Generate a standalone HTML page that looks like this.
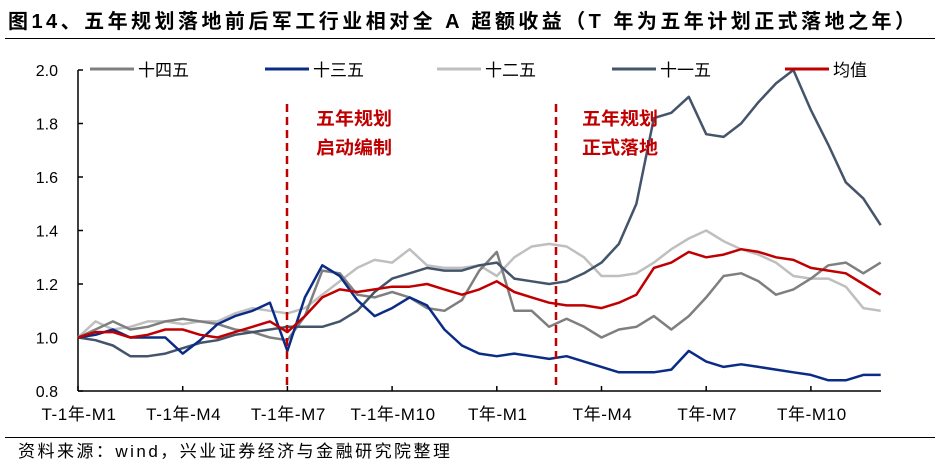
<!DOCTYPE html>
<html><head><meta charset="utf-8">
<style>
html,body{margin:0;padding:0;background:#fff;}
body{width:940px;height:466px;overflow:hidden;font-family:"Liberation Sans","Noto Sans CJK SC",sans-serif;}
svg text{font-family:"Liberation Sans","Noto Sans CJK SC",sans-serif;}
</style></head>
<body>
<svg id="chart" width="940" height="466" viewBox="0 0 940 466" xmlns="http://www.w3.org/2000/svg">
<text x="8" y="28" font-size="20" font-weight="bold" fill="#000" textLength="907" lengthAdjust="spacing">图14、五年规划落地前后军工行业相对全 A 超额收益（T 年为五年计划正式落地之年）</text>
<line x1="5" y1="38.5" x2="935" y2="38.5" stroke="#000" stroke-width="1"/>
<g id="axes"></g>
<g id="series"></g>
<g id="legend"></g>
<line x1="287" y1="104" x2="287" y2="389" stroke="#C00000" stroke-width="2.5" stroke-dasharray="8,5"/>
<line x1="556" y1="104" x2="556" y2="389" stroke="#C00000" stroke-width="2.5" stroke-dasharray="8,5"/>
<text x="316" y="125" font-size="18" font-weight="bold" fill="#C00000" textLength="76" lengthAdjust="spacingAndGlyphs">五年规划</text>
<text x="316" y="154" font-size="18" font-weight="bold" fill="#C00000" textLength="76" lengthAdjust="spacingAndGlyphs">启动编制</text>
<text x="582" y="125" font-size="18" font-weight="bold" fill="#C00000" textLength="76" lengthAdjust="spacingAndGlyphs">五年规划</text>
<text x="582" y="154" font-size="18" font-weight="bold" fill="#C00000" textLength="76" lengthAdjust="spacingAndGlyphs">正式落地</text>
<line x1="5" y1="437.5" x2="935" y2="437.5" stroke="#000" stroke-width="1"/>
<text x="18" y="457" font-size="17" fill="#000" textLength="432" lengthAdjust="spacing">资料来源：wind，兴业证券经济与金融研究院整理</text>
</svg>
<script>
const xTickLabels = ["T-1年-M1","T-1年-M4","T-1年-M7","T-1年-M10","T年-M1","T年-M4","T年-M7","T年-M10"];
const yTicks = [0.8,1.0,1.2,1.4,1.6,1.8,2.0];
const seriesNames = ["十四五","十三五","十二五","十一五","均值"];
const s14 = [1.00,1.03,1.06,1.03,1.04,1.06,1.07,1.06,1.05,1.03,1.02,1.00,0.99,1.08,1.25,1.24,1.16,1.15,1.17,1.15,1.11,1.10,1.14,1.25,1.32,1.10,1.10,1.04,1.07,1.04,1.00,1.03,1.04,1.08,1.03,1.08,1.15,1.23,1.24,1.21,1.16,1.18,1.22,1.27,1.28,1.24,1.28];
const s13 = [1.00,1.01,1.03,1.00,1.00,1.00,0.94,0.99,1.05,1.08,1.10,1.13,0.95,1.15,1.27,1.23,1.14,1.08,1.11,1.15,1.12,1.03,0.97,0.94,0.93,0.94,0.93,0.92,0.93,0.91,0.89,0.87,0.87,0.87,0.88,0.95,0.91,0.89,0.90,0.89,0.88,0.87,0.86,0.84,0.84,0.86,0.86];
const s12 = [1.00,1.06,1.03,1.04,1.06,1.06,1.05,1.06,1.06,1.09,1.11,1.10,1.09,1.11,1.16,1.21,1.26,1.29,1.28,1.33,1.27,1.26,1.26,1.27,1.23,1.30,1.34,1.35,1.34,1.30,1.23,1.23,1.24,1.28,1.33,1.37,1.40,1.36,1.33,1.31,1.28,1.23,1.22,1.22,1.19,1.11,1.10];
const s11 = [1.00,0.99,0.97,0.93,0.93,0.94,0.96,0.98,0.99,1.01,1.02,1.03,1.04,1.04,1.04,1.06,1.10,1.17,1.22,1.24,1.26,1.25,1.25,1.27,1.28,1.22,1.21,1.20,1.21,1.24,1.28,1.35,1.50,1.82,1.84,1.90,1.76,1.75,1.80,1.88,1.95,2.00,1.85,1.72,1.58,1.52,1.42];
const sMean = [1.00,1.02,1.02,1.00,1.01,1.03,1.03,1.01,1.00,1.02,1.04,1.06,1.02,1.08,1.15,1.18,1.17,1.18,1.19,1.19,1.20,1.18,1.16,1.18,1.21,1.17,1.15,1.13,1.12,1.12,1.11,1.13,1.16,1.26,1.28,1.32,1.30,1.31,1.33,1.32,1.30,1.29,1.26,1.25,1.24,1.20,1.16];

const NS="http://www.w3.org/2000/svg";
const X0=78, X1=881, Y0=391, Y1=70, STEP=17.45;
function xPos(i){return X0+i*STEP;}
function yPos(v){return Y0-(v-0.8)/(2.0-0.8)*(Y0-Y1);}
function mk(tag,attrs,parent){const e=document.createElementNS(NS,tag);for(const k in attrs)e.setAttribute(k,attrs[k]);parent.appendChild(e);return e;}

const axes=document.getElementById('axes');
let yl=mk('line',{x1:X0,y1:Y1,x2:X0,y2:Y0,stroke:'#000','stroke-width':1.5},axes);


let xl=mk('line',{x1:X0,y1:Y0,x2:X1,y2:Y0,stroke:'#000','stroke-width':1.5},axes);


yTicks.forEach(v=>{
  const y=yPos(v);
  let t=mk('line',{x1:X0,y1:y,x2:X0+5,y2:y,stroke:'#000','stroke-width':1.5},axes);
  
  
  let tx=mk('text',{x:58,y:y+6,'font-size':16,'text-anchor':'end',fill:'#000'},axes);
  tx.textContent=v.toFixed(1);
  
  
});
xTickLabels.forEach((lab,k)=>{
  const x=xPos(k*6);
  let t=mk('line',{x1:x,y1:Y0,x2:x,y2:Y0-5,stroke:'#000','stroke-width':1.5},axes);
  
  
  let tx=mk('text',{x:x+1,y:420,'font-size':17,'text-anchor':'middle',fill:'#000','letter-spacing':'0.6'},axes);
  tx.textContent=lab;
  
  
});

const colors=['#7F7F7F','#0B2C86','#BFBFBF','#44546A','#C00000'];
const datas=[s14,s13,s12,s11,sMean];
const names=['series-14th-plan','series-13th-plan','series-12th-plan','series-11th-plan','series-mean'];
const sg=document.getElementById('series');
[2,0,3,1,4].forEach(j=>{
  const d=datas[j].map((v,i)=>(i?'L':'M')+xPos(i).toFixed(1)+','+yPos(v).toFixed(1)).join(' ');
  let p=mk('path',{d:d,fill:'none',stroke:colors[j],'stroke-width':2.5,'stroke-linejoin':'round'},sg);
  
  
});

const lg=document.getElementById('legend');
const lx=[90,265,437,612,785];
seriesNames.forEach((n,j)=>{
  let l=mk('line',{x1:lx[j],y1:69,x2:lx[j]+44,y2:69,stroke:colors[j],'stroke-width':3},lg);
  
  
  let t=mk('text',{x:lx[j]+48,y:76,'font-size':17,fill:'#000'},lg);
  t.textContent=n;
  
  
});
</script>
</body></html>
